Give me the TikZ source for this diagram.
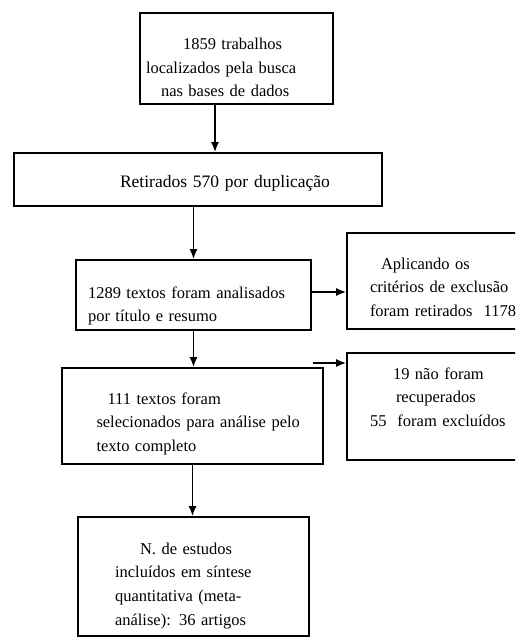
\documentclass[tikz,border=0pt]{standalone}
\usepackage{fontspec}
\setmainfont{Liberation Serif}
\usetikzlibrary{arrows.meta}

\begin{document}
\begin{tikzpicture}[x=1pt,y=-1pt,
    box/.style={draw,line width=1.7pt,inner sep=0pt,align=left,text height=12pt,
        font=\fontsize{16.5}{23.7}\selectfont},
    arr/.style={line width=1.7pt,-{Latex[length=10pt,width=8pt]}}]
\useasboundingbox (0,0) rectangle (515,637);
\clip (0,0) rectangle (515,637);

% main column
\node[box,minimum width=193pt,minimum height=91pt,text width=181pt,text depth=30pt] (b1) at (236.5,58.5)
    {\hspace*{37pt}1859 trabalhos\\localizados pela busca\\\hspace*{15pt}nas bases de dados};
\node[box,minimum width=368pt,minimum height=53pt,text width=352pt,text height=19pt,text depth=4pt,
    font=\fontsize{17.5}{23.7}\selectfont] (b2) at (198,179.5)
    {\hspace*{98pt}Retirados 570 por duplicação};
\node[box,minimum width=235pt,minimum height=70pt,text width=211pt,text depth=6pt] (b3) at (193.5,295)
    {1289 textos foram analisados\\por título e resumo};
\node[box,minimum width=261pt,minimum height=96pt,text width=240pt,text depth=36pt] (b5) at (192.5,416)
    {\hspace*{35pt}111 textos foram\\\hspace*{24pt}selecionados para análise pelo\\\hspace*{24pt}texto completo};
\node[box,minimum width=231pt,minimum height=119pt,text width=157pt,text depth=57pt] (b7) at (193.5,576.5)
    {\hspace*{25pt}N. de estudos\\incluídos em síntese\\quantitativa (meta-\\análise): 36 artigos};

% right column (cut at the page edge)
\node[box,minimum width=203pt,minimum height=96pt,text width=157pt,text depth=36pt] (b4) at (448.5,281)
    {\hspace*{11pt}Aplicando os\\critérios de exclusão\\foram retirados\ \ 1178};
\node[box,minimum width=203pt,minimum height=107pt,text width=157pt,text depth=67pt] (b6) at (448.5,406.5)
    {\hspace*{23pt}19 não foram\\\hspace*{26pt}recuperados\\55\ \ foram excluídos};

\coordinate (e3) at ([yshift=3pt]b3.east);
\coordinate (s6) at (313,363);

\draw[arr] ([xshift=-21.5pt]b1.south) -- ([xshift=-21.5pt]b1.south |- b2.north);
\draw[arr] (b3.north |- b2.south) -- (b3.north);
\draw[arr] (e3) -- (e3 -| b4.west);
\draw[arr] (b3.south) -- (b3.south |- b5.north);
\draw[arr] (s6) -- (s6 -| b6.west);
\draw[arr] (b5.south) -- (b5.south |- b7.north);
\end{tikzpicture}
\end{document}
